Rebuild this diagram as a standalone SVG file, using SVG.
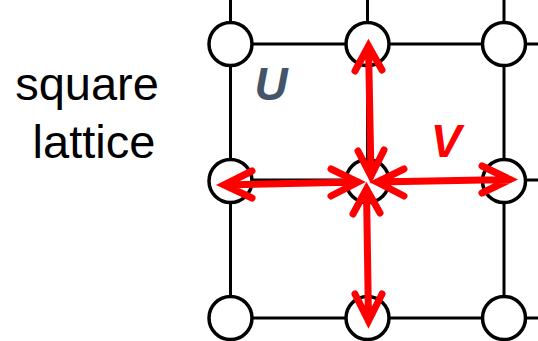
<svg xmlns="http://www.w3.org/2000/svg" width="538" height="341" viewBox="0 0 538 341">
<style>
.ln{stroke:#000;stroke-width:3;fill:none}
.nd{fill:#fff;stroke:#000;stroke-width:3.5}
.ar{stroke:#f00;stroke-width:7;fill:none;stroke-linecap:round;stroke-linejoin:miter;stroke-miterlimit:10}
.lbl{font-family:"Liberation Sans",Arial,sans-serif;font-size:47px;fill:#000}
.sym{font-family:"Liberation Sans",Arial,sans-serif;font-size:46px;font-weight:bold;font-style:italic}
</style>
<rect width="538" height="341" fill="#fff"/>
<g id="caption">
<text class="lbl" x="87" y="100" text-anchor="middle">square</text>
<text class="lbl" x="94" y="158" text-anchor="middle">lattice</text>
</g>
<g id="grid">
<path class="ln" d="M230.5,0V341M367.5,0V341M504,0V341M230.5,44H538M230.5,180H538M230.5,318H538"/>
</g>
<g id="n00"><circle class="nd" cx="230.5" cy="44" r="21.5"/></g>
<g id="n01"><circle class="nd" cx="367.5" cy="44" r="21.5"/></g>
<g id="n02"><circle class="nd" cx="504" cy="44" r="21.5"/></g>
<g id="n10"><circle class="nd" cx="230.5" cy="181" r="21.5"/></g>
<g id="n11"><circle class="nd" cx="367.5" cy="181" r="21.5"/></g>
<g id="n12"><circle class="nd" cx="504" cy="181" r="21.5"/></g>
<g id="n20"><circle class="nd" cx="230.5" cy="318" r="21.5"/></g>
<g id="n21"><circle class="nd" cx="367.5" cy="318" r="21.5"/></g>
<g id="n22"><circle class="nd" cx="504" cy="318" r="21.5"/></g>
<g id="labels">
<text class="sym" x="271" y="100" text-anchor="middle" fill="#44546A">U</text>
<text class="sym" x="446" y="157" text-anchor="middle" fill="#f00">V</text>
</g>
<g id="connectors">
<path class="ar" d="M368.5,46L371,176M355,71L368.5,46L382,70M358,151L371,176L384,150"/>
<path class="ar" d="M224,185L358,182M252,171L224,185L252,198M331,169L358,182L331,196"/>
<path class="ar" d="M377,182L510,179.5M404,169L377,182L404,196M482,166L510,179.5L482,193"/>
<path class="ar" d="M366.5,189L368.5,321M353,214L366.5,189L380,213M355,294L368.5,321L382,294"/>
</g>
</svg>
